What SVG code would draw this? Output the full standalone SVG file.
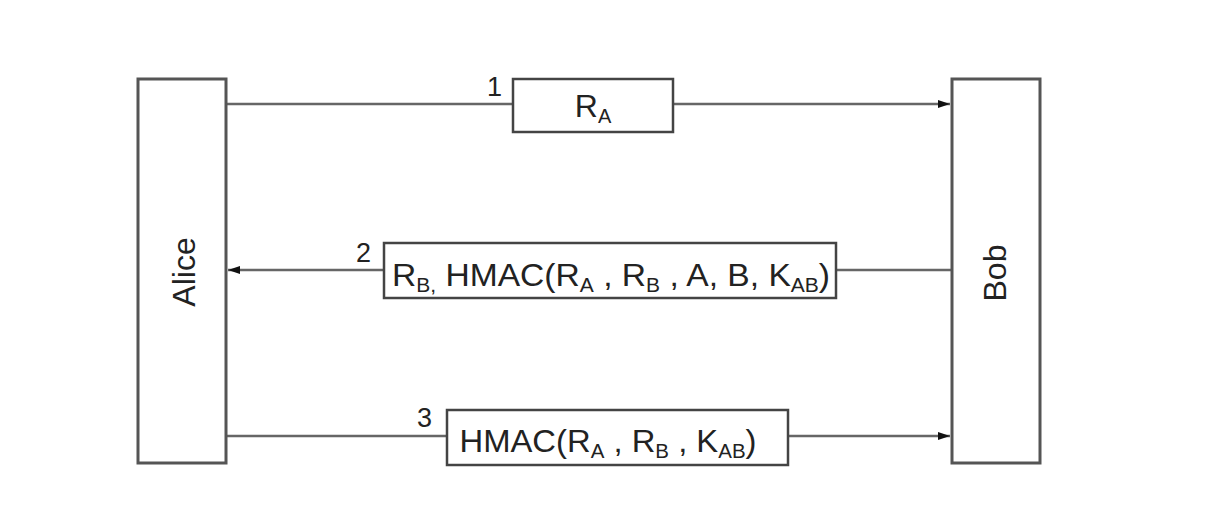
<svg xmlns="http://www.w3.org/2000/svg" width="1208" height="524" viewBox="0 0 1208 524">
  <style>
    .party { fill: #fff; stroke: #555; stroke-width: 3; }
    .msg { fill: #fff; stroke: #444; stroke-width: 2.5; }
    .line { stroke: #666; stroke-width: 2.5; fill: none; }
    .t { font-family: "Liberation Sans", Arial, sans-serif; font-size: 32px; fill: #222; }
    .sub { font-size: 20px; }
    .num { font-family: "Liberation Sans", Arial, sans-serif; font-size: 27px; fill: #222; }
  </style>
  <defs>
    <marker id="arrow" viewBox="0 0 12 8" refX="12" refY="4" markerWidth="12" markerHeight="8" markerUnits="userSpaceOnUse" orient="auto">
      <path d="M0,0 L12,4 L0,8 Z" fill="#111"/>
    </marker>
  </defs>
  <rect width="1208" height="524" fill="#fff"/>

  <!-- message lines between the two parties -->
  <g id="connectors">
    <line class="line" x1="226" y1="104" x2="950" y2="104" marker-end="url(#arrow)"/>
    <line class="line" x1="952" y1="270" x2="228" y2="270" marker-end="url(#arrow)"/>
    <line class="line" x1="226" y1="436" x2="950" y2="436" marker-end="url(#arrow)"/>
  </g>

  <g id="alice">
    <rect class="party" x="138" y="79" width="88" height="384"/>
    <text class="t" transform="translate(195,272) rotate(-90)" text-anchor="middle">Alice</text>
  </g>

  <g id="bob">
    <rect class="party" x="952" y="79" width="88" height="384"/>
    <text class="t" transform="translate(1006,273) rotate(-90)" text-anchor="middle">Bob</text>
  </g>

  <g id="msg1">
    <text class="num" x="487" y="96">1</text>
    <rect class="msg" x="513" y="79" width="160" height="53"/>
    <text class="t" x="593" y="117" text-anchor="middle">R<tspan class="sub" dy="6">A</tspan></text>
  </g>

  <g id="msg2">
    <text class="num" x="356" y="262">2</text>
    <rect class="msg" x="384" y="243" width="452" height="55"/>
    <text class="t" x="611" y="286" text-anchor="middle" textLength="438" lengthAdjust="spacingAndGlyphs">R<tspan class="sub" dy="6">B,</tspan><tspan dy="-6"> HMAC(R</tspan><tspan class="sub" dy="6">A</tspan><tspan dy="-6"> , R</tspan><tspan class="sub" dy="6">B</tspan><tspan dy="-6"> , A, B, K</tspan><tspan class="sub" dy="6">AB</tspan><tspan dy="-6">)</tspan></text>
  </g>

  <g id="msg3">
    <text class="num" x="417" y="427">3</text>
    <rect class="msg" x="447" y="410" width="341" height="55"/>
    <text class="t" x="608" y="452" text-anchor="middle" textLength="297" lengthAdjust="spacingAndGlyphs">HMAC(R<tspan class="sub" dy="6">A</tspan><tspan dy="-6"> , R</tspan><tspan class="sub" dy="6">B</tspan><tspan dy="-6"> , K</tspan><tspan class="sub" dy="6">AB</tspan><tspan dy="-6">)</tspan></text>
  </g>
</svg>
